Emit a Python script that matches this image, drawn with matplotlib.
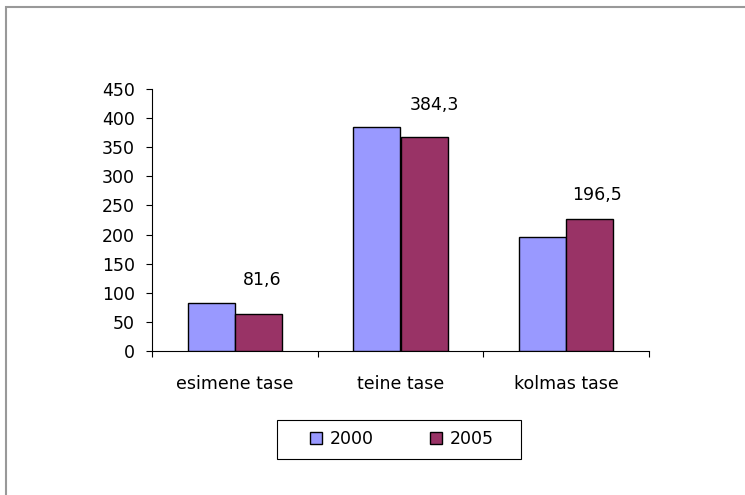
import matplotlib.pyplot as plt
from matplotlib.patches import Patch, Rectangle
import numpy as np

plt.rcParams['font.family'] = ['DejaVu Sans']

# --- data ---
categories = ["esimene tase", "teine tase", "kolmas tase"]
series_names = ["2000", "2005"]
values_2000 = [81.6, 384.3, 196.5]
values_2005 = [64, 368, 226]
value_labels = ["81,6", "384,3", "196,5"]
yticks = [0, 50, 100, 150, 200, 250, 300, 350, 400, 450]

colors = ["#9999FF", "#993366"]
fs = 12.5

fig = plt.figure(figsize=(7.45, 4.95), dpi=100)
ax = fig.add_axes([152 / 745, 1 - 351 / 495, 497 / 745, 262 / 495])

x = np.arange(len(categories))
w = 0.2857
ax.bar(x - w / 2, values_2000, w, color=colors[0], edgecolor="black", linewidth=1.0, zorder=3)
ax.bar(x + w / 2, values_2005, w, color=colors[1], edgecolor="black", linewidth=1.0, zorder=3)

# value labels (dragged by hand in the original sheet)
offsets = [(27, 23), (34, 22), (31, 42)]
for xi, v, lab, off in zip(x, values_2000, value_labels, offsets):
    ax.annotate(lab, xy=(xi, v), xytext=off, textcoords="offset pixels",
                ha="center", va="center", fontsize=fs)

ax.set_xlim(-0.5, len(categories) - 0.5)
ax.set_ylim(0, 450)
ax.set_yticks(yticks)
ax.set_xticks(x)
ax.set_xticklabels(categories)
ax.set_xticks(np.arange(len(categories) + 1) - 0.5, minor=True)

ax.tick_params(axis="y", direction="out", length=4.3, width=0.8, pad=8, labelsize=fs)
ax.tick_params(axis="x", which="major", length=0, pad=17, labelsize=fs)
ax.tick_params(axis="x", which="minor", direction="out", length=4.3, width=0.8)

for s in ["top", "right"]:
    ax.spines[s].set_visible(False)
ax.spines["left"].set_linewidth(0.8)
ax.spines["bottom"].set_linewidth(0.8)

# legend without its own frame; box drawn separately
handles = [Patch(facecolor=c, edgecolor="black", linewidth=1.0) for c in colors]
fig.legend(handles, series_names, loc="center", bbox_to_anchor=(402 / 745, 1 - 439 / 495),
           ncol=2, fontsize=fs, frameon=False, handlelength=0.7, handleheight=0.7,
           handletextpad=0.45, columnspacing=3.2, borderpad=0.2)
fig.patches.append(Rectangle((277 / 745, 1 - 459 / 495), 244 / 745, 39 / 495,
                             transform=fig.transFigure, fill=False,
                             edgecolor="black", linewidth=0.8))

# outer chart border (right/bottom cut off)
fig.patches.append(Rectangle((6 / 745, -0.1), 1.2, 1.1 - 7 / 495, transform=fig.transFigure,
                             fill=False, edgecolor="#999999", linewidth=1.5))

fig.savefig("out.png", dpi=100)
